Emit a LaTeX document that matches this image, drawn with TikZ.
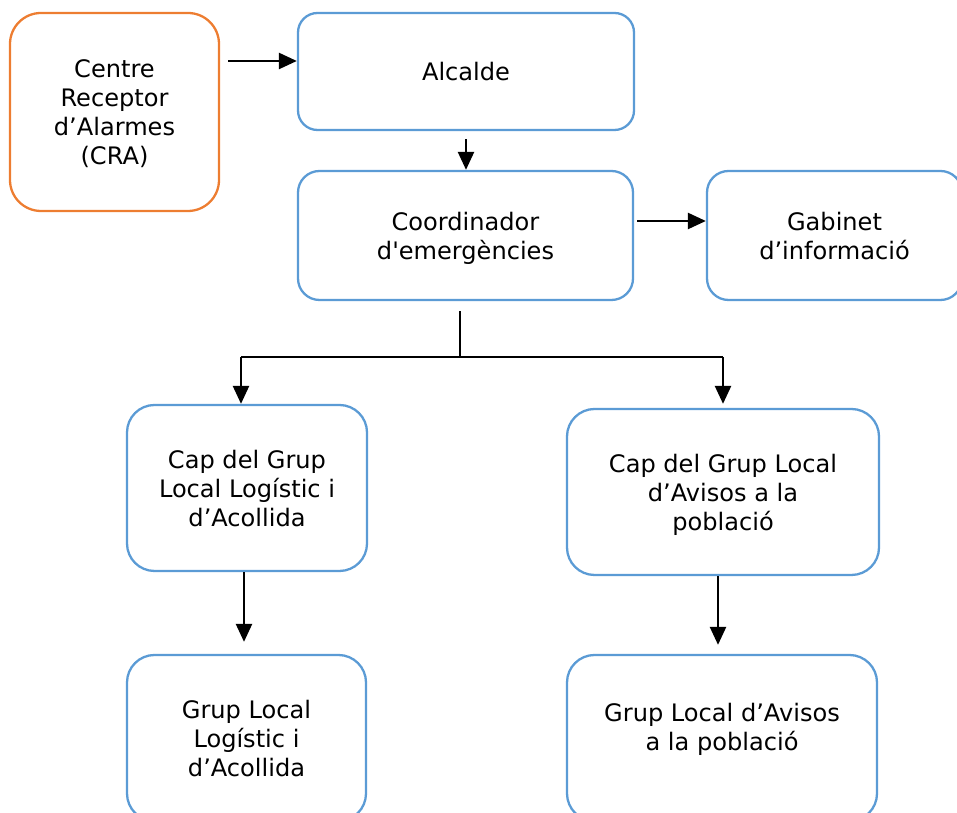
\documentclass[tikz,border=0pt]{standalone}
\usepackage{fontspec}
\setmainfont{DejaVu Sans}
\usetikzlibrary{arrows.meta}
\definecolor{boxblue}{HTML}{5B9BD5}
\definecolor{boxorange}{HTML}{ED7D31}
\tikzset{
  box/.style={draw=boxblue, line width=1.3pt, rounded corners=#1, align=center,
    inner sep=0pt, text depth=-1pt, font=\fontsize{13.7}{16.5}\selectfont},
  box/.default=0.55cm,
  arr/.style={line width=1.4pt, -{Triangle[length=0.36cm, width=0.32cm]}},
  stem/.style={line width=0.8pt}
}
\begin{document}
\begin{tikzpicture}
    \useasboundingbox (0,0) rectangle (19.14,16.26);
    % top row
    \node[box=0.62cm, draw=boxorange, minimum width=4.18cm, minimum height=3.96cm] (cra) at (2.29,14.02) {Centre\\Receptor\\d’Alarmes\\(CRA)};
    \node[box=0.39cm, minimum width=6.72cm, minimum height=2.34cm] (alc) at (9.32,14.83) {Alcalde};
    % second row
    \node[box=0.43cm, minimum width=6.70cm, minimum height=2.58cm] (coo) at (9.31,11.55) {Coordinador\\d\textquotesingle emergències};
    \node[box=0.43cm, minimum width=5.10cm, minimum height=2.58cm] (gab) at (16.69,11.55) {Gabinet\\d’informació};
    % caps de grup
    \node[box, minimum width=4.80cm, minimum height=3.32cm] (cl) at (4.94,6.50) {Cap del Grup\\Local Logístic i\\d’Acollida};
    \node[box, minimum width=6.24cm, minimum height=3.32cm] (ca) at (14.46,6.42) {Cap del Grup Local\\d’Avisos a la\\població};
    % grups
    \node[box, minimum width=4.78cm, minimum height=3.32cm] (gl) at (4.93,1.50) {Grup Local\\Logístic i\\d’Acollida};
    \node[box, minimum width=6.20cm, minimum height=3.32cm, text depth=13pt] (ga) at (14.44,1.50) {Grup Local d’Avisos\\a la població};
    % fletxes
    \draw[arr] ([xshift=0.16cm]cra.east |- 0,15.04) -- (alc.west |- 0,15.04);
    \draw[arr, shorten <=0.16cm] (alc.south) -- (alc.south |- coo.north);
    \draw[arr] ([xshift=0.06cm]coo.east |- 0,11.84) -- (gab.west |- 0,11.84);
    \coordinate (fork) at (9.20,9.12);
    \draw[stem] ([yshift=-0.2cm]fork |- coo.south) -- (fork);
    \draw[stem] ([xshift=-0.12cm]fork -| cl) -- (fork -| ca);
    \draw[arr] ([xshift=-0.12cm]fork -| cl) -- ([xshift=-0.12cm]cl.north);
    \draw[arr, shorten >=0.08cm] (fork -| ca) -- (ca.north);
    \draw[arr, shorten >=0.24cm] ([xshift=-0.06cm]cl.south) -- ([xshift=-0.06cm]cl.south |- gl.north);
    \draw[arr, shorten >=0.18cm] ([xshift=-0.1cm]ca.south) -- ([xshift=-0.1cm]ca.south |- ga.north);
\end{tikzpicture}
\end{document}
